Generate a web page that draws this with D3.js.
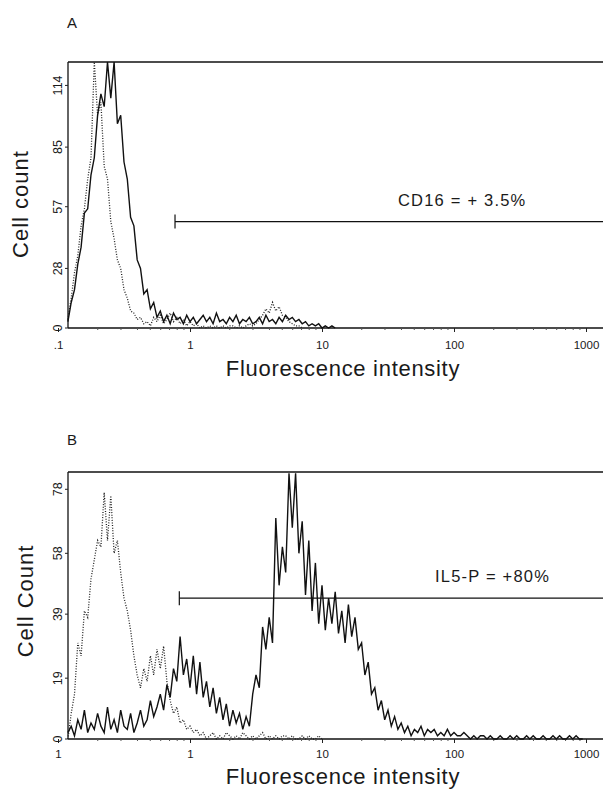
<!DOCTYPE html>
<meta charset="utf-8">
<script src="https://d3js.org/d3.v7.min.js"></script>
<style>
  body { margin: 0; background: #fff; }
  text { font-family: "Liberation Sans", Arial, sans-serif; fill: #1a1a1a; }
</style>
<div id="my_dataviz"></div>
<script>

// histogram channels: 40 channels per decade, channel 0 = intensity 0.1
var channelsPerDecade = 40;
var firstChannel = 3;

// panel A: CD16 (solid) and control (dotted), counts per channel from firstChannel
var countsA = [3,12,18,30,38,54,56,72,80,100,110,104,125,108,125,96,100,78,70,52,48,32,28,16,18,9,12,5,8,
  3,6,2,7,4,5,2,6,3,5,2,4,6,3,5,2,7,3,4,2,5,3,6,2,4,3,5,2,3,5,2,6,3,4,2,5,3,6,4,5,3,4,2,3,1,2,1,2,0,1,0,1,0];
var controlA = [4,14,26,34,48,56,70,80,125,100,106,76,70,50,42,32,28,18,14,8,7,4,5,2,3,1,
  5,3,6,2,4,7,3,5,2,4,1,3,1,2,0,1,0,1,0,1,0,1,0,1,1,0,1,0,1,2,1,2,4,6,9,7,12,8,10,6,5,3,2,1,1,0];

// panel B: IL5-P (solid) and control (dotted)
var countsB = [2,4,1,6,3,9,2,5,3,8,4,2,10,3,6,2,9,4,3,8,2,5,9,4,
  6,12,7,10,14,9,17,13,22,18,32,20,25,16,26,14,24,13,18,10,16,8,13,6,11,4,9,5,8,3,7,4,
  14,20,16,35,28,38,30,69,48,60,52,83,66,83,58,68,45,62,40,55,36,48,34,44,36,46,33,40,30,42,32,38,28,30,
  20,24,14,16,9,12,6,9,4,7,3,5,2,4,1,3,2,4,1,3,2,3,1,2,1,3,1,2,1,1,2,1,0,1,0,1,1,0,1,0,0,
  1,0,0,1,0,1,0,0,1,0,1,0,0,1,0,0,1,0,1,0,0,1,0,1,0,0];
var controlB = [0,8,14,30,26,40,38,50,56,62,60,77,62,76,58,62,52,44,40,34,26,20,16,22,18,26,20,28,22,29,
  18,12,8,10,5,6,3,4,2,3,1,2,0,1,2,0,1,0,2,1,0,1,0,2,1,0,1,0,1,2,0,1,0,1,0,1,1,0,1,0,0,1,0,1,0,0,1,0];

// axis ticks
var xTicks = [0.1, 1, 10, 100, 1000];
var xTickLabelsA = [".1", "1", "10", "100", "1000"];
var xTickLabelsB = ["1", "1", "10", "100", "1000"];
var yTicksA = [0, 28, 57, 85, 114];
var yTicksB = [0, 19, 39, 58, 78];

// gate markers (start intensity, count level) and labels
var gateA = [0.77, 50], gateB = [0.83, 44];
var gateLabelA = "CD16 = + 3.5%", gateLabelB = "IL5-P = +80%";

var W = 603, H = 789;
var svg = d3.select("#my_dataviz").append("svg")
  .attr("width", W).attr("height", H);

function drawPanel(p) {
  var g = svg.append("g");
  var x = d3.scaleLog().domain([0.1, 1000]).range([58, 586]);
  var y = d3.scaleLinear().domain([0, p.ymax]).range([p.bottom, p.top]).clamp(true);
  var left = 68;

  // frame: left axis, top line, baseline
  g.append("line").attr("x1", left).attr("x2", W).attr("y1", p.top).attr("y2", p.top)
    .attr("stroke", "#111").attr("stroke-width", 1.3);
  g.append("line").attr("x1", left).attr("x2", left).attr("y1", p.top).attr("y2", p.bottom)
    .attr("stroke", "#111").attr("stroke-width", 1.3);
  g.append("line").attr("x1", left).attr("x2", W).attr("y1", p.bottom).attr("y2", p.bottom)
    .attr("stroke", "#111").attr("stroke-width", 1.3);

  // x axis (log)
  var xa = g.append("g").attr("transform", "translate(0," + p.bottom + ")")
    .call(d3.axisBottom(x).tickValues(xTicks).tickSize(4)
      .tickFormat(function(d, i) { return p.xLabels[i]; }));
  xa.select(".domain").remove();
  xa.selectAll("line").attr("stroke", "#222");
  xa.selectAll("text").attr("font-size", 11.5).attr("dy", p.xLabelDy)
    .attr("font-family", "Liberation Sans, Arial, sans-serif").attr("fill", "#1a1a1a");
  // minor ticks
  var minor = [];
  xTicks.slice(0, -1).forEach(function(d) { for (var m = 2; m < 10; m++) minor.push(d * m); });
  g.selectAll(".minor").data(minor.filter(function(d) { return x(d) > left; })).enter().append("line")
    .attr("x1", function(d) { return x(d); }).attr("x2", function(d) { return x(d); })
    .attr("y1", p.bottom).attr("y2", p.bottom + 2).attr("stroke", "#555");

  // y axis ticks and rotated labels
  g.selectAll(".ytick").data(p.yTicks).enter().append("line")
    .attr("x1", left - 3).attr("x2", left)
    .attr("y1", function(d) { return y(d); }).attr("y2", function(d) { return y(d); })
    .attr("stroke", "#222");
  g.selectAll(".ylab").data(p.yTicks).enter().append("text")
    .attr("transform", function(d) { return "translate(62," + y(d) + ") rotate(-90)"; })
    .attr("text-anchor", "middle").attr("font-size", 12.5)
    .text(function(d) { return d; });

  // histograms
  function pts(arr) {
    return arr.map(function(c, i) {
      return [Math.pow(10, (firstChannel + i) / channelsPerDecade) * 0.1, c];
    });
  }
  var line = d3.line()
    .x(function(d) { return x(d[0]); })
    .y(function(d) { return y(d[1]); });
  g.append("path").datum(pts(p.control)).attr("d", line)
    .attr("fill", "none").attr("stroke", "#222").attr("stroke-width", 1.3)
    .attr("stroke-dasharray", "1,1.6");
  g.append("path").datum(pts(p.counts)).attr("d", line)
    .attr("fill", "none").attr("stroke", "#111").attr("stroke-width", 1.4);

  // gate
  var gx = x(p.gate[0]), gy = y(p.gate[1]);
  g.append("line").attr("x1", gx).attr("x2", W).attr("y1", gy).attr("y2", gy)
    .attr("stroke", "#111").attr("stroke-width", 1.2);
  g.append("line").attr("x1", gx).attr("x2", gx).attr("y1", gy - 7).attr("y2", gy + 7)
    .attr("stroke", "#111").attr("stroke-width", 1.2);
  g.append("text").attr("x", p.labelX).attr("y", gy - 16).attr("font-size", 16.5)
    .attr("letter-spacing", 1.2).text(p.gateLabel);

  // titles
  g.append("text").attr("x", 67).attr("y", p.panelY).attr("font-size", 15).text(p.panel);
  g.append("text").attr("x", 343).attr("y", p.xTitleY).attr("text-anchor", "middle")
    .attr("font-size", 22).attr("letter-spacing", 0.7).text("Fluorescence intensity");
  g.append("text").attr("transform", "translate(" + p.yTitleX + "," + p.yTitleY + ") rotate(-90)")
    .attr("text-anchor", "middle").attr("font-size", 22).attr("letter-spacing", 1)
    .text(p.yTitle);
}

drawPanel({top: 62, bottom: 328, ymax: 125, counts: countsA, control: controlA,
  yTicks: yTicksA, xLabels: xTickLabelsA, xLabelDy: "1.2em", gate: gateA, gateLabel: gateLabelA,
  labelX: 398, panel: "A", panelY: 28, xTitleY: 376, yTitle: "Cell count", yTitleX: 28, yTitleY: 204});

drawPanel({top: 472, bottom: 739, ymax: 83.4, counts: countsB, control: controlB,
  yTicks: yTicksB, xLabels: xTickLabelsB, xLabelDy: "1em", gate: gateB, gateLabel: gateLabelB,
  labelX: 435, panel: "B", panelY: 445, xTitleY: 784, yTitle: "Cell Count", yTitleX: 33, yTitleY: 601});

</script>
